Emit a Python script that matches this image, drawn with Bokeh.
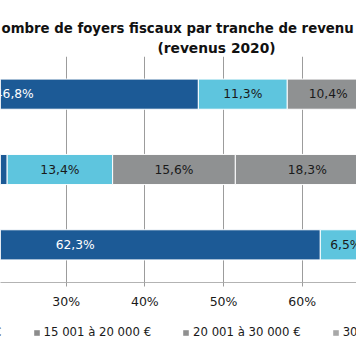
from bokeh.plotting import figure
from bokeh.layouts import column
from bokeh.models import (FactorRange, Range1d, ColumnDataSource, Label, Legend, LegendItem,
                          FixedTicker, NumeralTickFormatter)
from bokeh.core.properties import value
from bokeh.embed import file_html
from bokeh.resources import INLINE

# ---- data (shares in %, bars listed top -> bottom) ----
bars = ["Barre 1", "Barre 2", "Barre 3"]
brackets = ["Jusqu'à 10 000 €", "10 001 à 15 000 €", "15 001 à 20 000 €",
            "20 001 à 30 000 €", "30 001 à 50 000 €"]
share_b1 = [46.8, 22.5, 62.3]
share_b2 = [11.3, 13.4, 6.5]
share_b3 = [10.4, 15.6, None]
share_b4 = [None, 18.3, None]
share_b5 = [None, None, None]
series = [share_b1, share_b2, share_b3, share_b4, share_b5]
colors = ["#1c5a96", "#5ec5de", "#8f9192", "#8f9192", "#a8a8a8"]
legend_colors = ["#1c5a96", "#5ec5de", "#8c8c8c", "#909090", "#a8a8a8"]
label_colors = ["white", "#1a1a1a", "#1a1a1a", "#1a1a1a", "#1a1a1a"]
x_ticks = [0.2, 0.3, 0.4, 0.5, 0.6, 0.7]
title_lines = ["ombre de foyers fiscaux par tranche de revenu", "(revenus 2020)"]

FONT = "DejaVu Sans"
W = 356


def bare(fig):
    fig.outline_line_color = None
    fig.background_fill_color = "white"
    fig.border_fill_color = "white"
    return fig


# ---- title strip ----
t = bare(figure(width=W, height=56, output_backend="svg", toolbar_location=None,
                x_range=Range1d(0, W), y_range=Range1d(56, 0),
                x_axis_location=None, y_axis_location=None,
                min_border_left=0, min_border_right=0, min_border_top=0, min_border_bottom=0))
t.grid.grid_line_color = None
t.add_layout(Label(x=1, y=28, text=title_lines[0],
                   text_font=FONT, text_font_style="bold", text_font_size="13.3px",
                   text_align="left", text_baseline="alphabetic", text_color="#111111"))
t.add_layout(Label(x=216, y=47, text=title_lines[1],
                   text_font=FONT, text_font_style="bold", text_font_size="13.8px",
                   text_align="center", text_baseline="alphabetic", text_color="#111111"))

# ---- main chart ----
p = bare(figure(width=W, height=256, output_backend="svg", toolbar_location=None,
                y_range=FactorRange(*reversed(bars)), x_range=Range1d(0.2165, 0.669),
                y_axis_location=None, min_border_left=0, min_border_right=0,
                min_border_top=0, min_border_bottom=30))
p.ygrid.grid_line_color = None
p.xgrid.grid_line_color = "#9c9c9c"
p.xgrid.grid_line_width = 1

ax = p.xaxis[0]
ax.ticker = FixedTicker(ticks=x_ticks)
ax.formatter = NumeralTickFormatter(format="0%")
ax.axis_line_color = "#b3b3b3"
ax.major_tick_line_color = "#9c9c9c"
ax.major_tick_in = 0
ax.major_tick_out = 4
ax.minor_tick_line_color = None
ax.major_label_text_font = FONT
ax.major_label_text_font_size = "12.5px"
ax.major_label_text_color = "#1a1a1a"
ax.major_label_standoff = 7

cum = [0.0] * len(bars)
for s, vals in enumerate(series):
    ys, lefts, rights, xs_mid, texts = [], [], [], [], []
    for i, v in enumerate(vals):
        if v is None:
            continue
        left = cum[i]
        right = left + v
        cum[i] = right
        ys.append(bars[i])
        lefts.append(left / 100)
        rights.append(right / 100)
        xs_mid.append((left + right) / 200)
        texts.append(f"{v:.1f}".replace(".", ",") + "%")
    src = ColumnDataSource(dict(y=ys, left=lefts, right=rights, xm=xs_mid, t=texts))
    p.hbar(y="y", left="left", right="right", height=0.4, source=src,
           fill_color=colors[s], line_color="white", line_width=1)
    p.text(x="xm", y="y", text="t", source=src, text_align="center", text_baseline="middle",
           text_font=value(FONT), text_font_size="12.3px", text_color=label_colors[s])

# ---- legend strip ----
g = bare(figure(width=W, height=52, output_backend="svg", toolbar_location=None,
                x_range=Range1d(0, 1), y_range=Range1d(0, 1),
                x_axis_location=None, y_axis_location=None,
                min_border_left=0, min_border_right=0, min_border_top=0, min_border_bottom=0))
g.grid.grid_line_color = None
items = []
for k in range(1, 5):
    # legend proxies: one entry placed outside the strip's visible range
    r = g.hbar(y=[-5], left=[0], right=[1], height=1, fill_color=legend_colors[k], line_color=None)
    items.append(LegendItem(label=brackets[k], renderers=[r]))
legend = Legend(items=items, location=(-117, 25), orientation="horizontal",
                glyph_width=7, glyph_height=7, label_standoff=4, spacing=31,
                padding=0, margin=0, label_height=14,
                border_line_alpha=0, background_fill_alpha=0,
                label_text_font=FONT, label_text_font_size="11.7px", label_text_color="#1a1a1a")
g.add_layout(legend)

layout = column(t, p, g, spacing=0)
open("out.html", "w").write(file_html(layout, INLINE))
